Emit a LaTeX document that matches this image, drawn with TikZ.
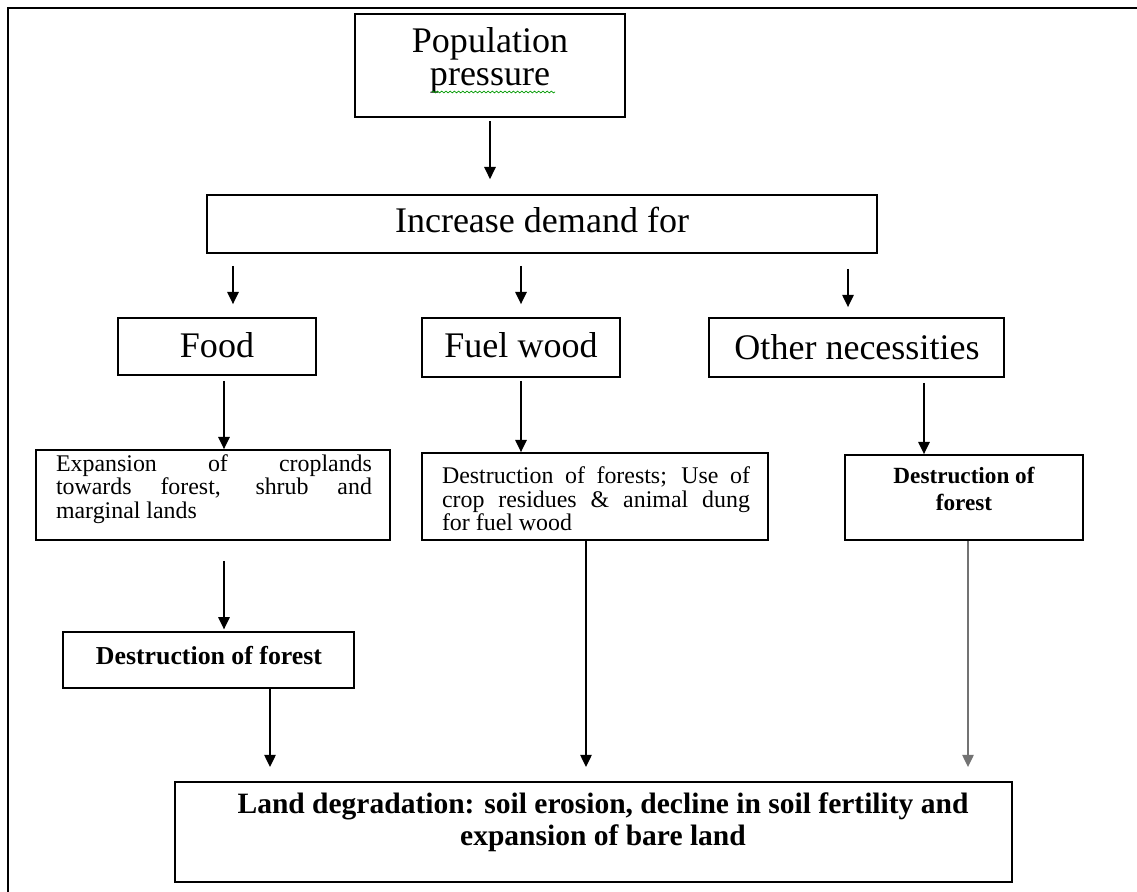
\documentclass[tikz,border=0pt]{standalone}
\usepackage{fontspec}
\setmainfont{Liberation Serif}
\usetikzlibrary{arrows.meta}
\usetikzlibrary{decorations.pathmorphing}

\begin{document}
\begin{tikzpicture}[x=0.02cm, y=-0.02cm]
      \tikzset{
        >={Triangle[width=6.5pt,length=7pt]},
        box/.style={draw, line width=1pt, inner sep=0pt},
        flow/.style={->, line width=1pt},
        bigtext/.style={font=\fontsize{20.5}{18.8}\selectfont, align=center},
        smalltext/.style={font=\fontsize{13.6}{13.4}\selectfont, align=justify,
          inner sep=0pt, execute at begin node={\hyphenpenalty10000\relax}},
        boldtext/.style={font=\bfseries\fontsize{14.7}{13}\selectfont, align=center},
      }
      \useasboundingbox (0,0) rectangle (1137,892);
      \draw[line width=1.4pt] (8,892) -- (8,8) -- (1137,8);

      % boxes
      \node[box, minimum width=5.4cm, minimum height=2.06cm] (pop) at (490,65.5) {};
      \node[box, minimum width=13.4cm, minimum height=1.16cm] (demand) at (542,224) {};
      \node[box, minimum width=3.96cm, minimum height=1.14cm] (food) at (217,346.5) {};
      \node[box, minimum width=3.96cm, minimum height=1.18cm] (fuel) at (521,347.5) {};
      \node[box, minimum width=5.9cm, minimum height=1.18cm] (other) at (856.5,347.5) {};
      \node[box, minimum width=7.08cm, minimum height=1.8cm] (expan) at (213,495) {};
      \node[box, minimum width=5.82cm, minimum height=1.12cm] (destr1) at (208.5,660) {};
      \node[box, minimum width=6.92cm, minimum height=1.74cm] (fuelres) at (595,496.5) {};
      \node[box, minimum width=4.76cm, minimum height=1.7cm] (destr2) at (964,497.5) {};
      \node[box, minimum width=16.74cm, minimum height=2cm] (land) at (593.5,832) {};

      % texts
      \node[bigtext] (poptext) at (490,60) {Population\\pressure};
      \draw[green!60!black, decorate, decoration={snake, amplitude=0.5pt, segment length=2.4pt}]
        (432,92) -- (555,92);
      \node[bigtext] (demandtext) at (542,220) {Increase demand for};
      \node[bigtext] (foodtext) at (217,345) {Food};
      \node[bigtext] (fueltext) at (521,345) {Fuel wood};
      \node[bigtext] (othertext) at (857,347) {Other necessities};
      \node[smalltext, text width=6.32cm] (expantext) at (214,489)
        {Expansion of croplands\linebreak towards forest, shrub and\linebreak marginal lands};
      \node[boldtext] (destr1text) at (209,656) {Destruction of forest};
      \node[smalltext, text width=6.16cm] (fuelrestext) at (596,499)
        {Destruction of forests; Use of\linebreak crop residues \& animal dung\linebreak for fuel wood};
      \node[boldtext, font=\bfseries\fontsize{13.2}{15.4}\selectfont] (destr2text) at (964,489)
        {Destruction of\\forest};
      \node[boldtext, font=\bfseries\fontsize{16.8}{18.2}\selectfont] (landtext) at (603,822)
        {Land degradation: soil erosion, decline in soil fertility and\\expansion of bare land};

      % arrows
      \draw[flow, shorten <=2pt, shorten >=8.5pt] (pop.south) -- (pop.south |- demand.north);
      \draw[flow, shorten <=6.8pt, shorten >=7.4pt] (233,0 |- demand.south) -- (233,0 |- food.north);
      \draw[flow, shorten <=6.8pt, shorten >=7.4pt] (fuel.north |- demand.south) -- (fuel.north);
      \draw[flow, shorten <=8.5pt, shorten >=5.7pt] (848,0 |- demand.south) -- (848,0 |- other.north);
      \draw[flow, shorten <=2.8pt] (224,0 |- food.south) -- (224,0 |- expan.north);
      \draw[flow, shorten <=11.4pt, shorten >=1pt] (224,0 |- expan.south) -- (224,0 |- destr1.north);
      \draw[flow, shorten >=8pt] (270,0 |- destr1.south) -- (270,0 |- land.north);
      \draw[flow, shorten <=1.7pt] (fuel.south) -- (fuel.south |- fuelres.north);
      \draw[flow, shorten >=8pt] (586,0 |- fuelres.south) -- (586,0 |- land.north);
      \draw[flow, shorten <=2.8pt] (924,0 |- other.south) -- (924,0 |- destr2.north);
      \draw[flow, shorten >=8pt, draw=black!55, fill=black] (968,0 |- destr2.south) -- (968,0 |- land.north);
    \end{tikzpicture}
\end{document}
